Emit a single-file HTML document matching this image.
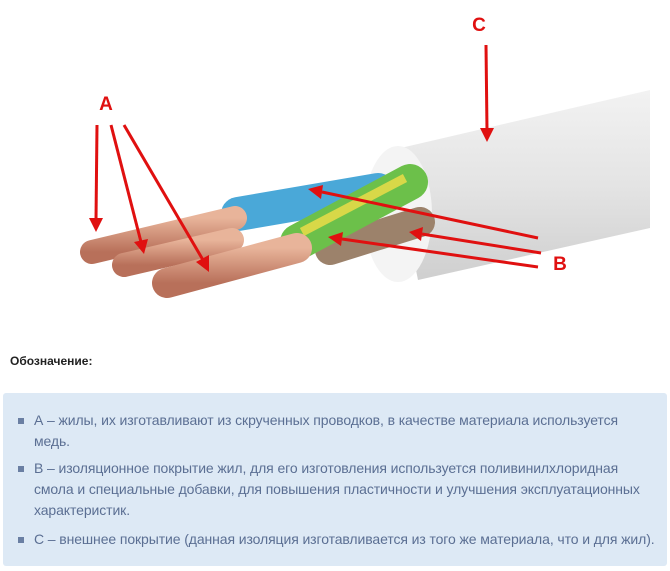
<!DOCTYPE html>
<html><head><meta charset="utf-8"><style>
body{margin:0;width:670px;height:571px;background:#fff;font-family:"Liberation Sans",sans-serif;position:relative;overflow:hidden}
svg{position:absolute;left:0;top:0}
.h{position:absolute;left:10px;top:354px;font-size:12px;font-weight:bold;color:#222}
.box{position:absolute;left:3px;top:393px;width:664px;height:173px;background:#dde9f5;border-radius:3px}
.it{position:absolute;left:34px;font-size:14px;line-height:21px;color:#5b6f93;width:634px;letter-spacing:-0.1px}
.b{position:absolute;left:18px;width:6px;height:6px;background:#6a7fa3}
</style></head><body>
<svg width="670" height="330">
<defs>
<linearGradient id="w" x1="0" y1="0" x2="0" y2="1"><stop offset="0" stop-color="#f2f2f2"/><stop offset="0.5" stop-color="#e4e4e4"/><stop offset="1" stop-color="#cfcfcf"/></linearGradient>
<linearGradient id="cu" x1="0" y1="0" x2="0" y2="1"><stop offset="0" stop-color="#e8b49a"/><stop offset="1" stop-color="#b8705a"/></linearGradient>
</defs>
<polygon points="392,150 650,90 650,228 418,280" fill="url(#w)"/>
<ellipse cx="398" cy="214" rx="34" ry="68" fill="#f4f4f4"/>
<line x1="330" y1="250" x2="420" y2="222" stroke="#9c826b" stroke-width="30" stroke-linecap="round"/>
<line x1="238" y1="214" x2="378" y2="190" stroke="#4aa8d8" stroke-width="34" stroke-linecap="round"/>
<line x1="298" y1="242" x2="410" y2="182" stroke="#6cc04a" stroke-width="36" stroke-linecap="round"/>
<line x1="302" y1="232" x2="405" y2="178" stroke="#d8d848" stroke-width="9"/>
<line x1="92" y1="252" x2="235" y2="218" stroke="url(#cu)" stroke-width="24" stroke-linecap="round"/>
<line x1="124" y1="265" x2="232" y2="240" stroke="url(#cu)" stroke-width="24" stroke-linecap="round"/>
<line x1="167" y1="283" x2="297" y2="248" stroke="url(#cu)" stroke-width="30" stroke-linecap="round"/>
<g stroke="#e01010" stroke-width="3" fill="#e01010">
<line x1="486" y1="45" x2="487" y2="130"/><polygon points="480,128 494,128 487,142" stroke="none"/>
<line x1="97" y1="125" x2="96" y2="220"/><polygon points="89,218 103,218 96,232" stroke="none"/>
<line x1="111" y1="125" x2="141" y2="242"/><polygon points="134,242 148,239 144,254" stroke="none"/>
<line x1="124" y1="125" x2="203" y2="260"/><polygon points="196,262 209,255 209,272" stroke="none"/>
<line x1="538" y1="238" x2="322" y2="192"/><polygon points="323,185 321,199 308,189" stroke="none"/>
<line x1="541" y1="253" x2="422" y2="234"/><polygon points="423,227 421,241 409,232" stroke="none"/>
<line x1="538" y1="267" x2="342" y2="239"/><polygon points="343,232 341,246 328,237" stroke="none"/>
</g>
<text x="479" y="31" fill="#e01010" font-size="19" font-weight="bold" text-anchor="middle">C</text>
<text x="106" y="110" fill="#e01010" font-size="19" font-weight="bold" text-anchor="middle">A</text>
<text x="560" y="270" fill="#e01010" font-size="19" font-weight="bold" text-anchor="middle">B</text>
</svg>
<div class="h">Обозначение:</div>
<div class="box"></div>
<div class="b" style="top:418px"></div>
<div class="it" style="top:410px">А – жилы, их изготавливают из скрученных проводков, в качестве материала используется<br>медь.</div>
<div class="b" style="top:466px"></div>
<div class="it" style="top:458px">В – изоляционное покрытие жил, для его изготовления используется поливинилхлоридная<br>смола и специальные добавки, для повышения пластичности и улучшения эксплуатационных<br>характеристик.</div>
<div class="b" style="top:537px"></div>
<div class="it" style="top:529px">С – внешнее покрытие (данная изоляция изготавливается из того же материала, что и для жил).</div>
</body></html>
